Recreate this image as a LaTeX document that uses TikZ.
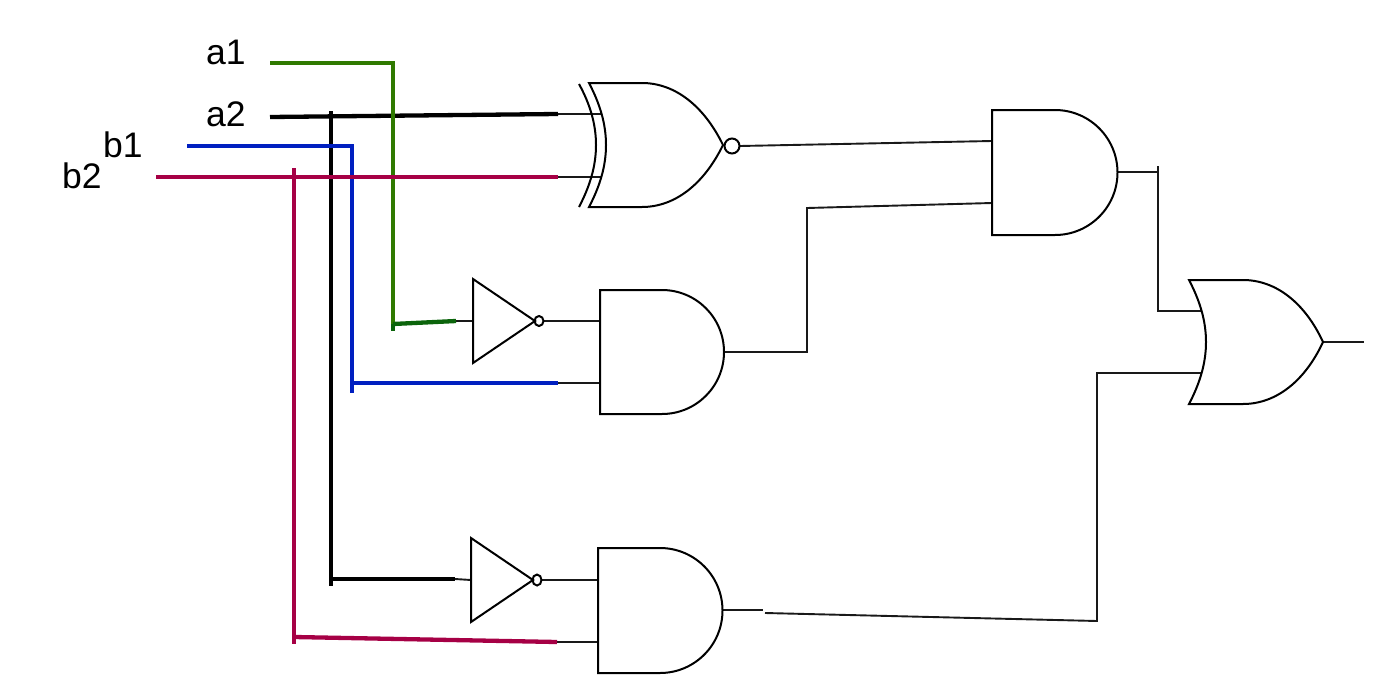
\documentclass[tikz,border=0pt]{standalone}
\usepackage{fontspec}
\setmainfont{Liberation Sans}
\definecolor{wgreen}{HTML}{2F7A00}
\definecolor{wdgreen}{HTML}{0B640B}
\definecolor{wblue}{HTML}{001FC0}
\definecolor{wred}{HTML}{A60045}
\tikzset{
  gate/.style={draw=black,line width=2pt,line join=miter,fill=none},
  wire/.style={draw=black!90,line width=1.9pt},
  bus/.style={line width=4.3pt},
  lab/.style={anchor=base west,inner sep=0pt,font=\fontsize{35.5}{36}\selectfont}
}
\begin{document}
\begin{tikzpicture}[x=1pt,y=-1pt]
\useasboundingbox (0,0) rectangle (1390,699);
% labels
\node[lab] (la1) at (206,64) {a1};
\node[lab] (la2) at (206,126) {a2};
\node[lab] (lb1) at (103,157) {b1};
\node[lab] (lb2) at (62,188) {b2};
% pins and junctions
\coordinate (a1s) at (270,63);
\coordinate (a1c) at (393,63);
\coordinate (a1e) at (393,331);
\coordinate (a1j) at (393,324);
\coordinate (a1t) at (456,321);
\coordinate (a2s) at (270,117);
\coordinate (a2t) at (558,114);
\coordinate (a2u) at (331,111);
\coordinate (a2d) at (331,586);
\coordinate (a2j) at (331,579);
\coordinate (a2v) at (455,579);
\coordinate (b1s) at (187,146);
\coordinate (b1c) at (352,146);
\coordinate (b1e) at (352,393);
\coordinate (b1j) at (352,383);
\coordinate (b1t) at (558,383);
\coordinate (b2s) at (156,177);
\coordinate (b2t) at (558,177);
\coordinate (b2u) at (294,168);
\coordinate (b2d) at (294,644);
\coordinate (b2j) at (294,637);
\coordinate (b2v) at (557,642);
% XNOR
\coordinate (xin1) at (602,114);
\coordinate (xin2) at (602,177);
\coordinate (xout) at (740,146);
\coordinate (a1in1) at (992,141);
\coordinate (a1in2) at (992,203);
\coordinate (a1out) at (1117,172);
\coordinate (a1k) at (1158,172);
\coordinate (a1u) at (1158,166);
\coordinate (ora) at (1158,311);
\coordinate (orin1) at (1201,311);
\coordinate (orin2) at (1201,373);
\coordinate (orb) at (1097,373);
\coordinate (orc) at (1097,621);
\coordinate (orout) at (1323,342);
\coordinate (orend) at (1364,342);
\coordinate (a2in1) at (600,321);
\coordinate (a2in2) at (600,383);
\coordinate (a2out) at (724,352);
\coordinate (mk) at (807,352);
\coordinate (ml) at (807,208);
\coordinate (a3in1) at (598,580);
\coordinate (a3in2) at (598,642);
\coordinate (a3out) at (722,610);
\coordinate (a3k) at (763,610);
\coordinate (a3l) at (765,613);
\coordinate (n1in) at (473,321);
\coordinate (n1out) at (544,321);
\coordinate (n2in) at (471,580);
\coordinate (n2out) at (541,580);
% thin wires
\draw[wire] (a2t) -- (xin1);
\draw[wire] (b2t) -- (xin2);
\draw[wire] (xout) -- (a1in1);
\draw[wire] (a2out) -- (mk) -- (ml) -- (a1in2);
\draw[wire] (a1out) -- (a1k);
\draw[wire] (a1u) -- (ora) -- (orin1);
\draw[wire] (a3l) -- (orc) -- (orb) -- (orin2);
\draw[wire] (a3out) -- (a3k);
\draw[wire] (orout) -- (orend);
\draw[wire] (a1t) -- (n1in);
\draw[wire] (n1out) -- (a2in1);
\draw[wire] (b1t) -- (a2in2);
\draw[wire] (a2v) -- (n2in);
\draw[wire] (n2out) -- (a3in1);
\draw[wire] (b2v) -- (a3in2);
% coloured wires
\draw[bus,black] (a2s) -- (a2t);
\draw[bus,black] (a2u) -- (a2d);
\draw[bus,black] (a2j) -- (a2v);
\draw[bus,wgreen,line join=miter] (a1s) -- (a1c) -- (a1j);
\draw[bus,wdgreen] (a1j) -- (a1e);
\draw[bus,wdgreen] (a1j) -- (a1t);
\draw[bus,wblue,line join=miter] (b1s) -- (b1c) -- (b1e);
\draw[bus,wblue] (b1j) -- (b1t);
\draw[bus,wred] (b2s) -- (b2t);
\draw[bus,wred] (b2u) -- (b2d);
\draw[bus,wred] (b2j) -- (b2v);
% XNOR gate
\path[gate] (579,84) .. controls (590,104) and (596,124) .. (596,145)
  .. controls (596,166) and (590,186) .. (579,207);
\path[gate] (589,83) -- (642,83) .. controls (675,83) and (704,106) .. (723,145)
  .. controls (704,184) and (675,207) .. (642,207) -- (589,207)
  .. controls (600,186) and (606,166) .. (606,145)
  .. controls (606,124) and (600,104) .. (589,83) -- cycle;
\draw[gate] (732,146) circle[radius=7.5];
% AND gates
\path[gate] (992,110) -- (1055,110) arc[start angle=-90,end angle=90,radius=62.5] -- (992,235) -- cycle;
\path[gate] (600,290) -- (662,290) arc[start angle=-90,end angle=90,radius=62] -- (600,414) -- cycle;
\path[gate] (598,548) -- (660,548) arc[start angle=-90,end angle=90,radius=62.5] -- (598,673) -- cycle;
% OR gate
\path[gate] (1189,280) -- (1243,280) .. controls (1276,280) and (1305,303) .. (1323,342)
  .. controls (1305,381) and (1276,404) .. (1243,404) -- (1189,404)
  .. controls (1200,383) and (1206,363) .. (1206,342)
  .. controls (1206,321) and (1200,301) .. (1189,280) -- cycle;
% inverters
\path[gate] (473,279) -- (535,321) -- (473,363) -- cycle;
\draw[gate] (539,321) ellipse[x radius=4.5,y radius=5];
\path[gate] (471,538) -- (533,580) -- (471,622) -- cycle;
\draw[gate] (537,580) ellipse[x radius=4.5,y radius=5.5];
\end{tikzpicture}
\end{document}
